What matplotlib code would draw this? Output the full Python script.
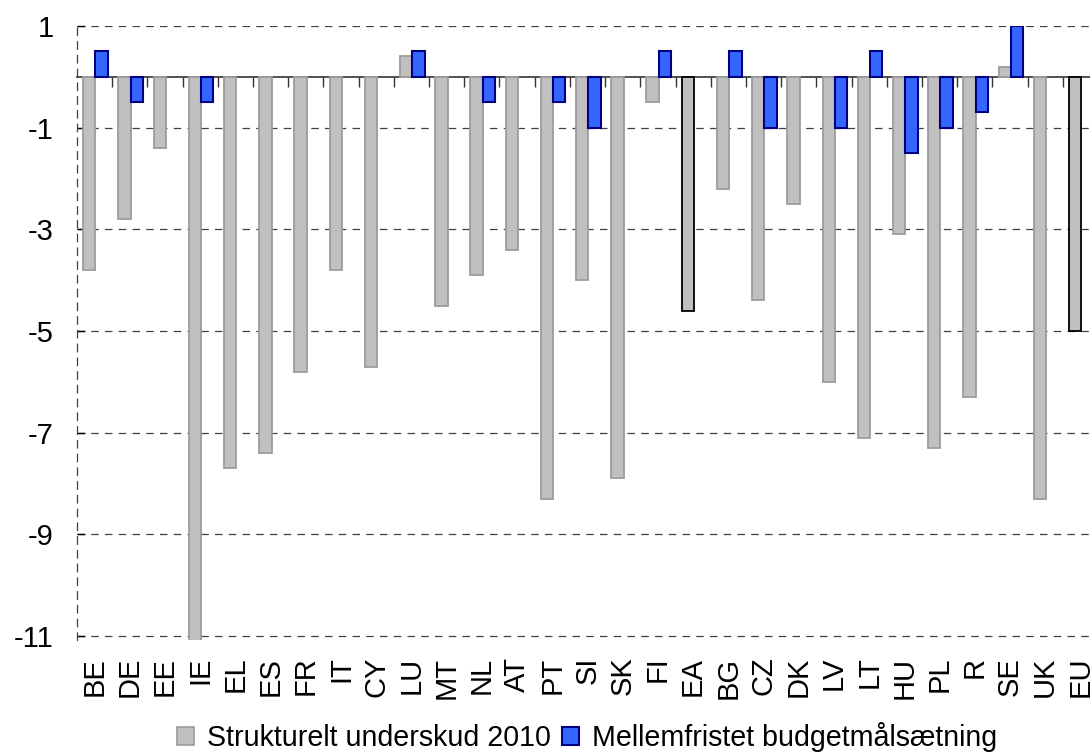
import numpy as np
import matplotlib
matplotlib.use("Agg")
import matplotlib.pyplot as plt
from matplotlib.patches import Patch

plt.rcParams["font.family"] = ["Liberation Sans", "DejaVu Sans"]
plt.rcParams["axes.unicode_minus"] = False

countries = ["BE", "DE", "EE", "IE", "EL", "ES", "FR", "IT", "CY", "LU",
             "MT", "NL", "AT", "PT", "SI", "SK", "FI", "EA", "BG", "CZ",
             "DK", "LV", "LT", "HU", "PL", "R", "SE", "UK", "EU"]

# Structural balance 2010 (% of GDP)
structural_2010 = [-3.8, -2.8, -1.4, -11.3, -7.7, -7.4, -5.8, -3.8, -5.7, 0.4,
                   -4.5, -3.9, -3.4, -8.3, -4.0, -7.9, -0.5, -4.6, -2.2, -4.4,
                   -2.5, -6.0, -7.1, -3.1, -7.3, -6.3, 0.2, -8.3, -5.0]

# Medium-term budgetary objective (NaN where none is shown)
nan = np.nan
mto = [0.5, -0.5, nan, -0.5, nan, nan, nan, nan, nan, 0.5,
       nan, -0.5, nan, -0.5, -1.0, nan, 0.5, nan, 0.5, -1.0,
       nan, -1.0, 0.5, -1.5, -1.0, -0.7, 1.0, nan, nan]

aggregates = ["EA", "EU"]
y_ticks = [1, -1, -3, -5, -7, -9, -11]

series_labels = ["Strukturelt underskud 2010", "Mellemfristet budgetmålsætning"]

grey_face, grey_edge = "#C0C0C0", "#9C9C9C"
blue_face, blue_edge = "#3366FF", "#000080"
dash = (0, (6, 5))
fs = 21

fig = plt.figure(figsize=(10.90, 7.53), dpi=100)
ax = fig.add_axes([77 / 1090, 1 - 640 / 753, 1021 / 1090, 614 / 753])

x = np.arange(len(countries))
w = 0.35
edge_cols = ["black" if c in aggregates else grey_edge for c in countries]
ax.bar(x - 0.15, structural_2010, width=w, color=grey_face,
       edgecolor=edge_cols, linewidth=1.3, zorder=2)

mto_arr = np.array(mto, dtype=float)
ok = ~np.isnan(mto_arr)
ax.bar(x[ok] + 0.2, mto_arr[ok], width=w, color=blue_face,
       edgecolor=blue_edge, linewidth=1.5, zorder=2)

ax.set_xlim(-0.5, len(countries) - 0.5)
ax.set_ylim(-11.08, 1)

# y axis: dashed grid, inward ticks, dashed left spine
ax.set_yticks(y_ticks)
ax.set_yticklabels([str(v) for v in y_ticks])
ax.tick_params(axis="y", direction="in", length=6, width=1, pad=17,
               labelsize=fs, colors="black")
ax.yaxis.grid(True, linestyle=dash, color="#404040", linewidth=0.9)
ax.set_axisbelow(True)
for s in ["top", "right", "bottom"]:
    ax.spines[s].set_visible(False)
ax.spines["left"].set_linestyle(dash)
ax.spines["left"].set_color("#404040")
ax.spines["left"].set_linewidth(0.9)

# category labels along the bottom
ax.set_xticks(x)
ax.set_xticklabels(countries, rotation=90, fontsize=fs)
ax.tick_params(axis="x", length=0, pad=12)

# zero line with boundary ticks between categories
zero_ax = ax.secondary_xaxis(0, transform=ax.transData)
zero_ax.set_xticks(np.arange(0.5, len(countries) - 0.5, 1.0))
zero_ax.set_xticklabels([])
zero_ax.tick_params(direction="out", length=7.5, width=1, color="#333333")
zero_ax.spines["bottom"].set_color("#333333")
zero_ax.spines["bottom"].set_linewidth(1.2)

handles = [Patch(facecolor=grey_face, edgecolor=grey_edge, linewidth=1.2),
           Patch(facecolor=blue_face, edgecolor=blue_edge, linewidth=1.5)]
fig.legend(handles, series_labels, loc="center", bbox_to_anchor=(0.5385, 0.021),
           ncol=2, frameon=False, fontsize=20.6, handlelength=0.6,
           handleheight=0.6, handletextpad=0.45, columnspacing=0.4,
           borderpad=0, borderaxespad=0)

fig.savefig("out.png", dpi=100)
